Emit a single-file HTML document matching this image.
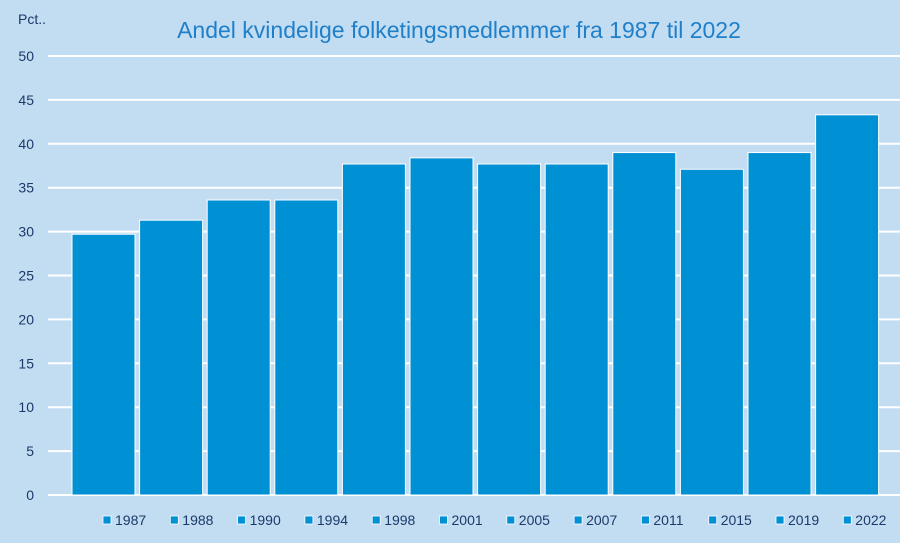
<!DOCTYPE html>
<html><head><meta charset="utf-8"><style>
body{margin:0;background:#c2dcf2;}
svg{display:block;font-family:"Liberation Sans",sans-serif;}
</style></head><body>
<svg id="c" width="900" height="543">
<rect width="900" height="543" fill="#c2dcf2"/>
<text x="459" y="38" text-anchor="middle" font-size="23" fill="#1f7fc8">Andel kvindelige folketingsmedlemmer fra 1987 til 2022</text>
<text x="18" y="24" font-size="14" fill="#1a3a6a">Pct..</text>
<g id="grid"></g><g id="bars"></g><g id="legend"></g>
</svg>
<script>
const categories=["1987","1988","1990","1994","1998","2001","2005","2007","2011","2015","2019","2022"];
const values=[29.7,31.3,33.6,33.6,37.7,38.4,37.7,37.7,39.0,37.1,39.0,43.3];
const yTicks=[0,5,10,15,20,25,30,35,40,45,50];
const NS="http://www.w3.org/2000/svg";
const y0=495,y1=56,yMax=50;
function y(v){return y0-(v/yMax)*(y0-y1);}
const slotX=71,slotW=67.6,barW=63;
function x(i){return slotX+i*slotW;}
function mk(t,a,p){const e=document.createElementNS(NS,t);for(const k in a)e.setAttribute(k,a[k]);p.appendChild(e);return e;}
const grid=document.getElementById('grid');
yTicks.forEach(t=>{
 const l=mk('line',{x1:48,x2:900,y1:y(t),y2:y(t),stroke:'#fff','stroke-width':2},grid);
 
 
 const tx=mk('text',{x:34,y:y(t)+5,'text-anchor':'end','font-size':14,fill:'#1a3a6a'},grid);
 tx.textContent=t;
 
 
});
const bars=document.getElementById('bars');
values.forEach((v,i)=>{
 const r=mk('rect',{x:x(i)+1,y:y(v),width:barW,height:y0-y(v),fill:'#0090d4',stroke:'#fff','stroke-width':1},bars);
 
 
});
const lg=document.getElementById('legend');
categories.forEach((c,i)=>{
 const lx=103+i*67.3;
 const s=mk('rect',{x:lx,y:516,width:8,height:8,fill:'#0090d4',stroke:'#fff','stroke-width':0.8},lg);
 
 
 const t=mk('text',{x:lx+12,y:525,'font-size':14,fill:'#1a3a6a'},lg);
 t.textContent=c;
 
 
});
</script>
</body></html>
